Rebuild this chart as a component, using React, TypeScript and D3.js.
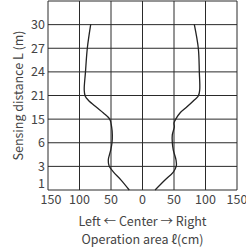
import React from "react";
import * as d3 from "d3";

const distanceLabels = ["1", "3", "6", "15", "21", "24", "27", "30", ""];
const xTicks = [-150, -100, -50, 0, 50, 100, 150];

// [position on distance axis (grid index), lateral offset cm]
const leftCurve: [number, number][] = [
  [0, -21], [0.42, -34], [0.76, -46], [1.02, -53], [1.27, -54.3], [1.69, -50.5],
  [2.0, -48.4], [2.33, -47.9], [2.67, -49], [3.0, -52], [3.26, -62], [3.5, -73],
  [3.8, -86], [3.98, -91], [4.23, -92.5], [5, -90.5], [6, -87.6], [7.01, -82.2],
];
const rightCurve: [number, number][] = [
  [0, 20], [0.42, 35.7], [0.76, 48.9], [1.02, 53.7], [1.27, 53.2], [1.69, 48.9],
  [2.0, 47.3], [2.33, 47.3], [2.67, 50.5], [2.84, 50], [3.0, 52.7], [3.26, 59.5],
  [3.51, 70.2], [3.81, 82.2], [3.98, 88.6], [4.23, 90.8], [5, 90.2], [6, 88.6], [7.01, 82.2],
];

const W = 246, H = 252;
const left = 48, right = 237, top = 1, bottom = 190;
const font = "'Noto Sans CJK JP', 'Noto Sans', sans-serif";

export default function App() {
  const x = d3.scaleLinear().domain([-150, 150]).range([left, right]);
  const y = d3.scaleLinear().domain([0, 8]).range([bottom, top]);
  const line = d3
    .line<[number, number]>()
    .x((d) => x(d[1]))
    .y((d) => y(d[0]))
    .curve(d3.curveCatmullRom.alpha(0.5));
  const gridColor = "#2a2a2a";
  const textColor = "#444";
  return (
    <svg
      width={W}
      height={H}
      style={{ position: "fixed", left: 0, top: 0, background: "#fff" }}
    >
      {distanceLabels.map((_, i) => (
        <line key={"h" + i} x1={left} x2={right} y1={y(i)} y2={y(i)} stroke={gridColor} strokeWidth={1} />
      ))}
      {xTicks.map((t) => (
        <line key={"v" + t} x1={x(t)} x2={x(t)} y1={top} y2={bottom} stroke={gridColor} strokeWidth={1} />
      ))}
      <path d={line(leftCurve) || ""} fill="none" stroke="#222" strokeWidth={1.3} />
      <path d={line(rightCurve) || ""} fill="none" stroke="#222" strokeWidth={1.3} />
      {distanceLabels.map((l, i) =>
        l ? (
          <text
            key={"yl" + i}
            x={45}
            y={y(i) + (i === 0 ? -2.5 : 4.6)}
            textAnchor="end"
            fontFamily={font}
            fontSize={12.5}
            fill={textColor}
          >
            {l}
          </text>
        ) : null
      )}
      {xTicks.map((t, i) => (
        <text
          key={"xl" + t}
          x={x(t) + (i === 0 ? 3 : 0)}
          y={204}
          textAnchor="middle"
          fontFamily={font}
          fontSize={12.5}
          fill={textColor}
        >
          {Math.abs(t)}
        </text>
      ))}
      <text
        transform={`translate(23,${(top + bottom) / 2}) rotate(-90)`}
        textAnchor="middle"
        fontFamily={font}
        fontSize={12.5}
        fill={textColor}
      >
        Sensing distance L (m)
      </text>
      <text x={142.5} y={225.5} textAnchor="middle" fontFamily={font} fontSize={12.5} fill={textColor}>
        Left ← Center → Right
      </text>
      <text x={142.5} y={243.5} textAnchor="middle" fontFamily={font} fontSize={12.5} fill={textColor}>
        Operation area ℓ(cm)
      </text>
    </svg>
  );
}
